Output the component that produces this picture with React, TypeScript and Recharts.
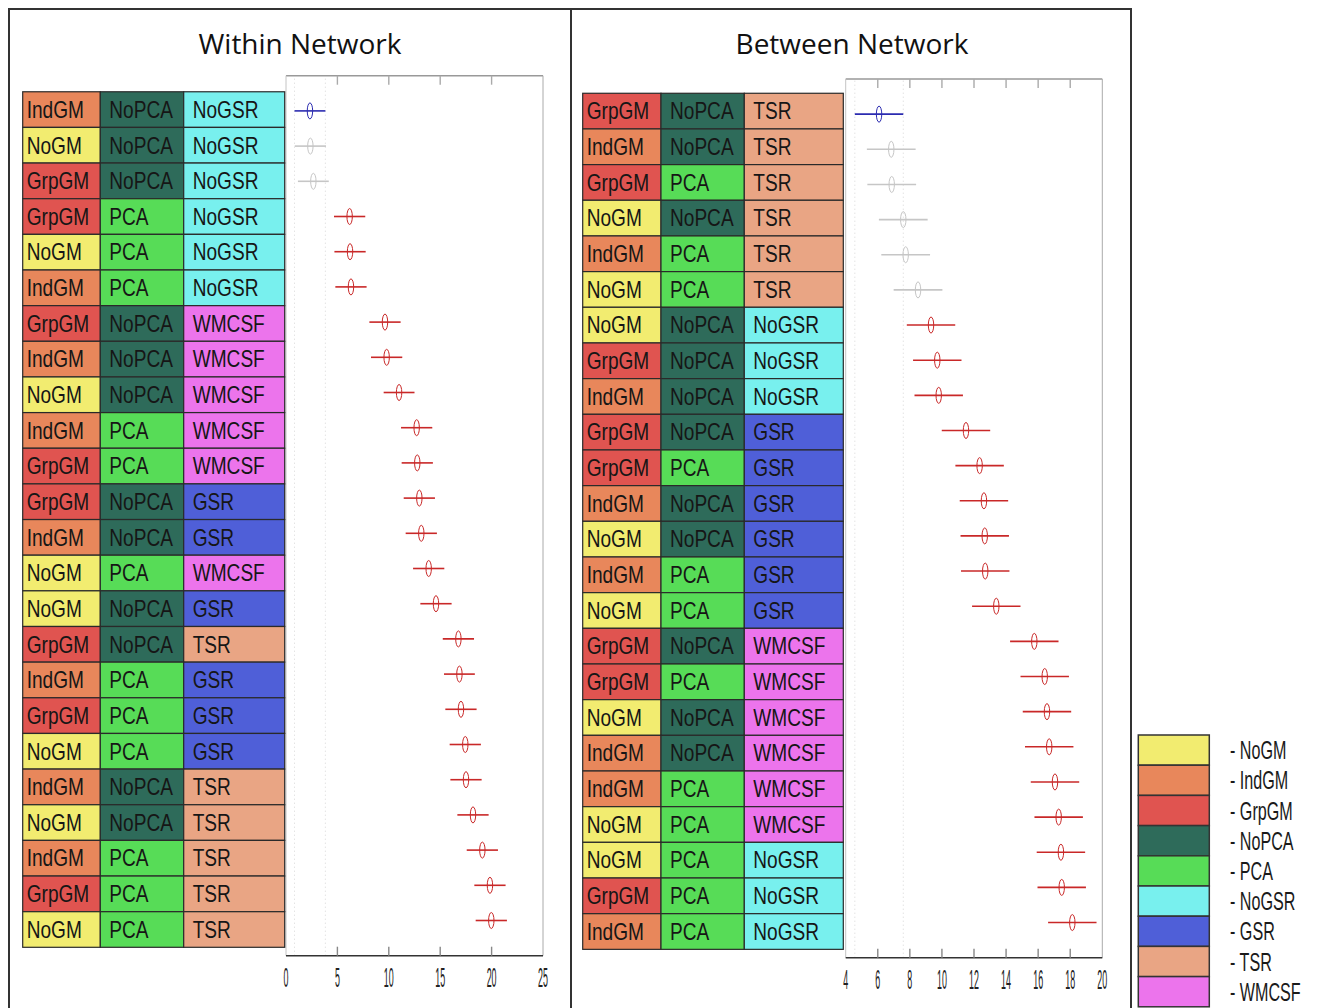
import { ScatterChart, Scatter, XAxis, YAxis, ErrorBar, ReferenceLine } from 'recharts';

// factor levels + colours used in the tables and the legend
const levels = ['NoGM', 'IndGM', 'GrpGM', 'NoPCA', 'PCA', 'NoGSR', 'GSR', 'TSR', 'WMCSF'];
const levelColors = ['#f2ec70', '#e8875b', '#e05450', '#2e6b5a', '#57dc57', '#78f0ee', '#4f5fd8', '#e9a584', '#ec74ec'];

// ---- Within Network ----
const withinGM = ['IndGM', 'NoGM', 'GrpGM', 'GrpGM', 'NoGM', 'IndGM', 'GrpGM', 'IndGM', 'NoGM', 'IndGM', 'GrpGM', 'GrpGM', 'IndGM', 'NoGM', 'NoGM', 'GrpGM', 'IndGM', 'GrpGM', 'NoGM', 'IndGM', 'NoGM', 'IndGM', 'GrpGM', 'NoGM'];
const withinPCA = ['NoPCA', 'NoPCA', 'NoPCA', 'PCA', 'PCA', 'PCA', 'NoPCA', 'NoPCA', 'NoPCA', 'PCA', 'PCA', 'NoPCA', 'NoPCA', 'PCA', 'NoPCA', 'NoPCA', 'PCA', 'PCA', 'PCA', 'NoPCA', 'NoPCA', 'PCA', 'PCA', 'PCA'];
const withinNR = ['NoGSR', 'NoGSR', 'NoGSR', 'NoGSR', 'NoGSR', 'NoGSR', 'WMCSF', 'WMCSF', 'WMCSF', 'WMCSF', 'WMCSF', 'GSR', 'GSR', 'WMCSF', 'GSR', 'TSR', 'GSR', 'GSR', 'GSR', 'TSR', 'TSR', 'TSR', 'TSR', 'TSR'];
const withinMean = [2.33, 2.37, 2.66, 6.19, 6.23, 6.32, 9.63, 9.79, 11.0, 12.71, 12.77, 12.97, 13.16, 13.88, 14.59, 16.77, 16.87, 17.02, 17.44, 17.51, 18.19, 19.1, 19.84, 19.97];
const withinCi = [1.5, 1.52, 1.5, 1.52, 1.52, 1.52, 1.52, 1.52, 1.5, 1.52, 1.52, 1.52, 1.52, 1.52, 1.52, 1.52, 1.5, 1.52, 1.52, 1.52, 1.52, 1.52, 1.52, 1.52];
const withinSig = ['best', 'ns', 'ns', 'sig', 'sig', 'sig', 'sig', 'sig', 'sig', 'sig', 'sig', 'sig', 'sig', 'sig', 'sig', 'sig', 'sig', 'sig', 'sig', 'sig', 'sig', 'sig', 'sig', 'sig'];
const withinTicks = [0, 5, 10, 15, 20, 25];

// ---- Between Network ----
const betweenGM = ['GrpGM', 'IndGM', 'GrpGM', 'NoGM', 'IndGM', 'NoGM', 'NoGM', 'GrpGM', 'IndGM', 'GrpGM', 'GrpGM', 'IndGM', 'NoGM', 'IndGM', 'NoGM', 'GrpGM', 'GrpGM', 'NoGM', 'IndGM', 'IndGM', 'NoGM', 'NoGM', 'GrpGM', 'IndGM'];
const betweenPCA = ['NoPCA', 'NoPCA', 'PCA', 'NoPCA', 'PCA', 'PCA', 'NoPCA', 'NoPCA', 'NoPCA', 'NoPCA', 'PCA', 'NoPCA', 'NoPCA', 'PCA', 'PCA', 'NoPCA', 'PCA', 'NoPCA', 'NoPCA', 'PCA', 'PCA', 'PCA', 'PCA', 'PCA'];
const betweenNR = ['TSR', 'TSR', 'TSR', 'TSR', 'TSR', 'TSR', 'NoGSR', 'NoGSR', 'NoGSR', 'GSR', 'GSR', 'GSR', 'GSR', 'GSR', 'GSR', 'WMCSF', 'WMCSF', 'WMCSF', 'WMCSF', 'WMCSF', 'WMCSF', 'NoGSR', 'NoGSR', 'NoGSR'];
const betweenMean = [6.08, 6.84, 6.87, 7.59, 7.74, 8.51, 9.32, 9.71, 9.8, 11.5, 12.35, 12.62, 12.67, 12.7, 13.39, 15.76, 16.41, 16.55, 16.69, 17.05, 17.28, 17.42, 17.47, 18.13];
const betweenCi = [1.51, 1.52, 1.52, 1.52, 1.52, 1.52, 1.51, 1.51, 1.51, 1.51, 1.51, 1.51, 1.51, 1.51, 1.51, 1.51, 1.51, 1.51, 1.51, 1.51, 1.51, 1.51, 1.51, 1.51];
const betweenSig = ['best', 'ns', 'ns', 'ns', 'ns', 'ns', 'sig', 'sig', 'sig', 'sig', 'sig', 'sig', 'sig', 'sig', 'sig', 'sig', 'sig', 'sig', 'sig', 'sig', 'sig', 'sig', 'sig', 'sig'];
const betweenTicks = [4, 6, 8, 10, 12, 14, 16, 18, 20];

const sigColors: Record<string, string> = { best: '#2b2bb0', ns: '#c6c6c6', sig: '#c92828' };

const FONT = '"Liberation Sans", Arial, sans-serif';

function colorOf(name: string) {
  return levelColors[levels.indexOf(name)];
}

interface PanelProps {
  title: string;
  titleX: number;
  left: number;
  gm: string[];
  pca: string[];
  nr: string[];
  mean: number[];
  ci: number[];
  sig: string[];
  xTicks: number[];
  cols: number[];
  rowH: number;
  tableDomain: [number, number];
  margin: { top: number; right: number; left: number; bottom: number };
  tableW: number;
  plotH: number;
}

function Panel(p: PanelProps) {
  const rows = p.mean.map((_, i) => i + 1);
  const domain: [number, number] = [p.xTicks[0], p.xTicks[p.xTicks.length - 1]];
  const groups = ['best', 'ns', 'sig'].map((g) => ({
    g,
    data: p.mean
      .map((m, i) => ({ x: m, y: i + 1, ci: p.ci[i], s: p.sig[i] }))
      .filter((d) => d.s === g),
  }));

  const tableTick = (t: any) => {
    const i = t.payload.value - 1;
    const cells = [p.gm[i], p.pca[i], p.nr[i]];
    const top = t.y - p.rowH / 2;
    return (
      <g>
        {cells.map((name, c) => (
          <g key={c}>
            <rect
              x={p.cols[c]}
              y={top}
              width={p.cols[c + 1] - p.cols[c]}
              height={p.rowH}
              fill={colorOf(name)}
              stroke="#2a2a2a"
              strokeWidth={1.2}
            />
            <text
              transform={`translate(${p.cols[c] + (c === 0 ? 4 : 9)},${t.y + 8.3}) scale(0.83,1)`}
              fontSize={23}
              fontFamily={FONT}
              fill="#161616"
            >
              {name}
            </text>
          </g>
        ))}
      </g>
    );
  };

  const xTick = (t: any) => {
    const v = t.payload.value;
    const end = v === domain[0] || v === domain[1];
    return (
      <g>
        {!end && <line x1={t.x} x2={t.x} y1={t.y} y2={t.y - 9} stroke="#888" strokeWidth={1.4} />}
        {!end && <line x1={t.x} x2={t.x} y1={t.y - p.plotH} y2={t.y - p.plotH + 9} stroke="#aaa" strokeWidth={1.4} />}
        <text
          transform={`translate(${t.x},${t.y + 31}) scale(0.33,1)`}
          textAnchor="middle"
          fontSize={27}
          fontFamily={FONT}
          fill="#222"
        >
          {v}
        </text>
      </g>
    );
  };

  return (
    <>
      <div
        style={{
          position: 'absolute',
          left: p.left,
          top: 20,
          width: 562,
          textAlign: 'center',
          fontFamily: '"Open Sans", sans-serif',
          fontSize: 28,
          lineHeight: '30px',
          color: '#111',
          transform: `translateX(${p.titleX - p.left - 281}px)`,
        }}
      >
        {p.title}
      </div>
      <div style={{ position: 'absolute', left: p.left, top: 0 }}>
        <ScatterChart width={555} height={1000} margin={p.margin}>
          <XAxis
            type="number"
            dataKey="x"
            domain={domain}
            ticks={p.xTicks}
            interval={0}
            tickSize={0}
            tickMargin={0}
            tickLine={false}
            axisLine={{ stroke: '#333', strokeWidth: 1.5 }}
            tick={xTick}
            height={40}
            allowDataOverflow
          />
          <YAxis
            yAxisId="row"
            type="number"
            dataKey="y"
            domain={[0, 25]}
            reversed
            ticks={rows}
            interval={0}
            mirror
            tick={false}
            tickSize={3}
            tickLine={{ stroke: '#333' }}
            axisLine={false}
            width={1}
            allowDataOverflow
          />
          <YAxis
            yAxisId="tbl"
            type="number"
            domain={p.tableDomain}
            reversed
            ticks={rows}
            interval={0}
            tick={tableTick}
            tickLine={false}
            axisLine={false}
            width={p.tableW}
            allowDataOverflow
          />
          <YAxis
            yAxisId="right"
            orientation="right"
            type="number"
            domain={[0, 25]}
            reversed
            ticks={rows}
            interval={0}
            mirror
            tick={false}
            tickSize={3}
            tickLine={{ stroke: '#333' }}
            axisLine={false}
            width={1}
            allowDataOverflow
          />
          <ReferenceLine yAxisId="row" y={0} stroke="#999" strokeWidth={1.4} />
          <ReferenceLine yAxisId="row" x={domain[0]} stroke="#c4c4c4" />
          <ReferenceLine yAxisId="row" x={domain[1]} stroke="#aaa" />
          <ReferenceLine yAxisId="row" x={p.mean[0] - p.ci[0]} stroke="#d6d6d6" strokeDasharray="1 3" />
          <ReferenceLine yAxisId="row" x={p.mean[0] + p.ci[0]} stroke="#d6d6d6" strokeDasharray="1 3" />
          {groups.map(({ g, data }) => (
            <Scatter
              key={g}
              yAxisId="row"
              data={data}
              isAnimationActive={false}
              shape={(s: any) => (
                <ellipse cx={s.cx} cy={s.cy} rx={2.7} ry={8} fill="none" stroke={sigColors[g]} strokeWidth={1} />
              )}
            >
              <ErrorBar
                dataKey="ci"
                direction="x"
                width={0}
                stroke={sigColors[g]}
                strokeWidth={1.6}
                isAnimationActive={false}
              />
            </Scatter>
          ))}
        </ScatterChart>
      </div>
    </>
  );
}

function Legend() {
  const rowH = 30.2;
  return (
    <svg style={{ position: 'absolute', left: 1128, top: 720 }} width={181} height={282}>
      {levels.map((name, i) => (
        <g key={name}>
          <rect x={2.3} y={7 + i * rowH} width={71} height={rowH} fill={levelColors[i]} stroke="#333" strokeWidth={1.5} />
          <text
            transform={`translate(94,${7 + i * rowH + rowH / 2 + 9}) scale(0.62,1)`}
            fontSize={26}
            fontFamily={FONT}
            fill="#1a1a1a"
          >
            {`- ${name}`}
          </text>
        </g>
      ))}
    </svg>
  );
}

export default function App() {
  return (
    <div style={{ position: 'relative', width: 1309, height: 1000, background: '#fff' }}>
      <div
        style={{
          position: 'absolute',
          left: 0,
          top: 0,
          width: 562,
          height: 1010,
          borderLeft: '2px solid #333',
          borderTop: '2px solid #333',
          boxSizing: 'border-box',
        }}
      />
      <div
        style={{
          position: 'absolute',
          left: 562,
          top: 0,
          width: 562,
          height: 1010,
          border: '2px solid #333',
          boxSizing: 'border-box',
        }}
      />
      <Panel
        title="Within Network"
        titleX={292}
        left={0}
        gm={withinGM}
        pca={withinPCA}
        nr={withinNR}
        mean={withinMean}
        ci={withinCi}
        sig={withinSig}
        xTicks={withinTicks}
        cols={[14.7, 92.3, 175.7, 276.7]}
        rowH={35.6}
        tableDomain={[0.05, 24.735]}
        margin={{ top: 67.7, right: 20, left: 0, bottom: 12.3 }}
        tableW={278}
        plotH={880}
      />
      <Panel
        title="Between Network"
        titleX={844}
        left={562}
        gm={betweenGM}
        pca={betweenPCA}
        nr={betweenNR}
        mean={betweenMean}
        ci={betweenCi}
        sig={betweenSig}
        xTicks={betweenTicks}
        cols={[12.7, 91, 174.3, 273.3]}
        rowH={35.67}
        tableDomain={[0.1, 24.734]}
        margin={{ top: 71, right: 22.7, left: 0, bottom: 10.3 }}
        tableW={275.7}
        plotH={878.7}
      />
      <Legend />
    </div>
  );
}
